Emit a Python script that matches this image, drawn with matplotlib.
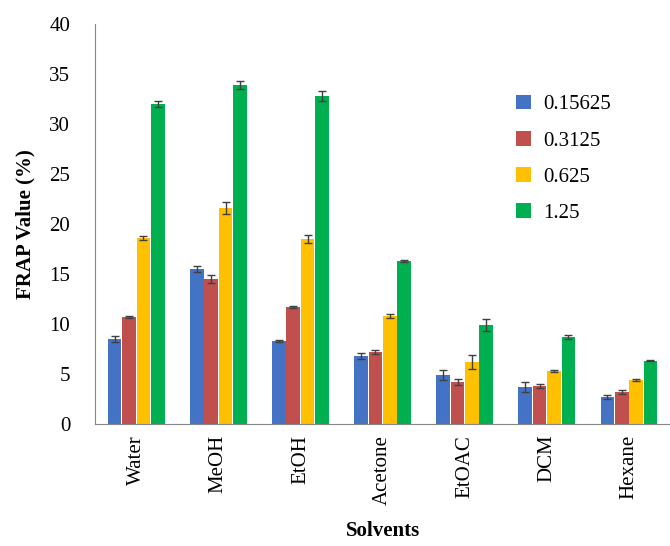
import matplotlib
matplotlib.use("Agg")
import matplotlib.pyplot as plt
import numpy as np

plt.rcParams['font.family'] = ['Liberation Serif', 'DejaVu Serif']

categories = ["Water", "MeOH", "EtOH", "Acetone", "EtOAC", "DCM", "Hexane"]
series_names = ["0.15625", "0.3125", "0.625", "1.25"]
v1 = [8.5, 15.5, 8.3, 6.8, 4.9, 3.7, 2.7]
v2 = [10.7, 14.5, 11.7, 7.2, 4.2, 3.8, 3.2]
v3 = [18.6, 21.6, 18.5, 10.8, 6.2, 5.3, 4.4]
v4 = [32.0, 33.9, 32.8, 16.3, 9.9, 8.7, 6.3]
e1 = [0.3, 0.3, 0.1, 0.3, 0.5, 0.5, 0.2]
e2 = [0.1, 0.4, 0.1, 0.2, 0.3, 0.2, 0.2]
e3 = [0.2, 0.6, 0.4, 0.2, 0.7, 0.1, 0.1]
e4 = [0.3, 0.4, 0.5, 0.1, 0.6, 0.2, 0.05]
colors = ["#4472C4", "#C0504D", "#FFC000", "#00B050"]

fig = plt.figure(figsize=(6.70, 5.46), dpi=100)
ax = fig.add_axes([0.142, 0.224, 0.858, 0.732])
x = np.arange(len(categories))
w = 0.175
for i, (v, e) in enumerate(zip([v1, v2, v3, v4], [e1, e2, e3, e4])):
    ax.bar(x + (i - 1.5) * w, v, w * 0.95, color=colors[i], label=series_names[i],
           yerr=e, capsize=3, error_kw=dict(ecolor="#404040", elinewidth=1, capthick=1))
ax.set_ylim(0, 40)
ax.set_xlim(-0.5, 6.5)
ax.set_yticks(range(0, 41, 5))
ax.set_xticks(x)
ax.set_xticklabels(categories, rotation=90, fontsize=15)
ax.tick_params(axis='y', labelsize=15, length=0, pad=18)
ax.tick_params(axis='x', length=0, pad=8)
for s in ["top", "right"]:
    ax.spines[s].set_visible(False)
ax.spines["left"].set_color("#888888")
ax.spines["bottom"].set_color("#888888")
ax.set_ylabel("FRAP Value (%)", fontsize=15, fontweight="bold", labelpad=10)
ax.set_xlabel("Solvents", fontsize=15, fontweight="bold", labelpad=12)
ax.legend(loc="upper left", bbox_to_anchor=(0.7, 0.87), frameon=False, fontsize=15,
          handlelength=0.7, handleheight=0.7, labelspacing=0.8, handletextpad=0.6)
fig.savefig("out.png", dpi=100)
